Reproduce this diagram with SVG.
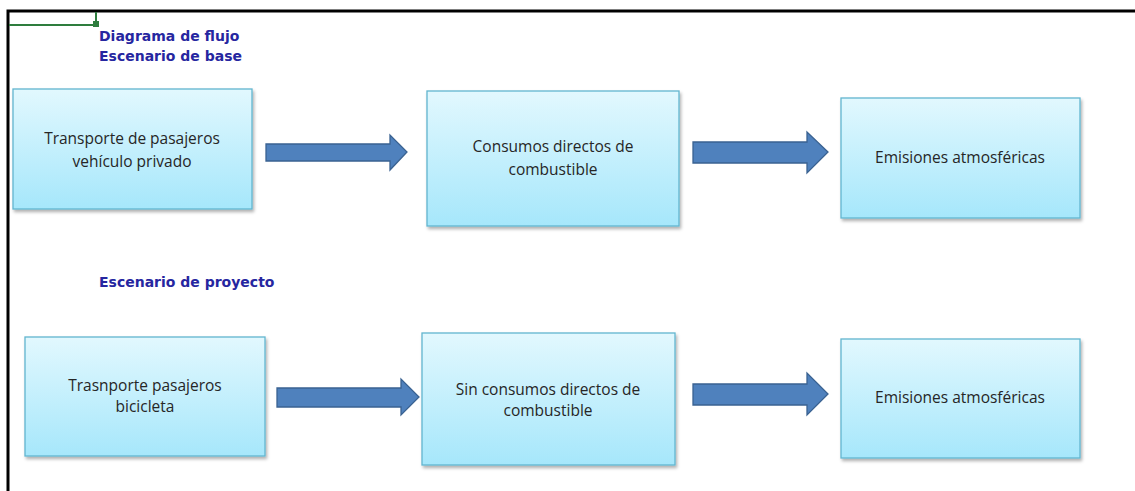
<svg xmlns="http://www.w3.org/2000/svg" width="1135" height="491" viewBox="0 0 1135 491">
<style>
.box{fill:url(#g);stroke:#62b5cf;stroke-width:1.3;filter:url(#sh)}
.t{font-family:"Open Sans","Noto Sans","DejaVu Sans",sans-serif;font-size:15.5px;fill:#262626;text-anchor:middle}
.h{font-family:"DejaVu Sans","Liberation Sans",sans-serif;font-size:14px;font-weight:bold;fill:#2626a0}
.ar{fill:#4f81bd;stroke:#3a6291;stroke-width:1.3}
</style>
<defs>
<linearGradient id="g" x1="0" y1="0" x2="0" y2="1">
<stop offset="0" stop-color="#e2f8fe"/>
<stop offset="1" stop-color="#a6e7fb"/>
</linearGradient>
<filter id="sh" x="-5%" y="-5%" width="112%" height="115%">
<feDropShadow dx="1.5" dy="2.5" stdDeviation="1.5" flood-color="#000" flood-opacity="0.3"/>
</filter>
</defs>
<rect width="1135" height="491" fill="#fff"/>
<g id="frame">
<path d="M8 491 V11 H1135" fill="none" stroke="#000" stroke-width="3"/>
<path d="M9 25 H95 M96 12 V23" stroke="#2e7d3e" stroke-width="2" fill="none"/>
<rect x="93" y="21" width="6" height="6" fill="#2e7d3e"/>
</g>
<g id="titles">
<text class="h" x="99" y="41">Diagrama de flujo</text>
<text class="h" x="99" y="61">Escenario de base</text>
<text class="h" x="99" y="287">Escenario de proyecto</text>
</g>
<g id="n1"><rect class="box" x="13" y="89" width="239" height="120"/>
<text class="t" x="132" y="144">Transporte de pasajeros</text><text class="t" x="132" y="167">vehículo privado</text></g>
<g id="n2"><rect class="box" x="427" y="91" width="252" height="135"/>
<text class="t" x="553" y="152">Consumos directos de</text><text class="t" x="553" y="175">combustible</text></g>
<g id="n3"><rect class="box" x="841" y="98" width="239" height="120"/>
<text class="t" x="960" y="163">Emisiones atmosféricas</text></g>
<g id="n4"><rect class="box" x="25" y="337" width="240" height="119"/>
<text class="t" x="145" y="391">Trasnporte pasajeros</text><text class="t" x="145" y="412">bicicleta</text></g>
<g id="n5"><rect class="box" x="422" y="333" width="253" height="132"/>
<text class="t" x="548" y="395">Sin consumos directos de</text><text class="t" x="548" y="416">combustible</text></g>
<g id="n6"><rect class="box" x="841" y="339" width="239" height="119"/>
<text class="t" x="960" y="403">Emisiones atmosféricas</text></g>
<g id="connectors">
<path class="ar" d="M266 144 H390 V135 L407 152 L390 170 V161 H266 Z"/>
<path class="ar" d="M693 142 H807 V132 L828 152 L807 173 V163 H693 Z"/>
<path class="ar" d="M277 388 H401 V379 L419 397 L401 415 V407 H277 Z"/>
<path class="ar" d="M693 384 H807 V373 L828 394 L807 415 V405 H693 Z"/>
</g>
</svg>
